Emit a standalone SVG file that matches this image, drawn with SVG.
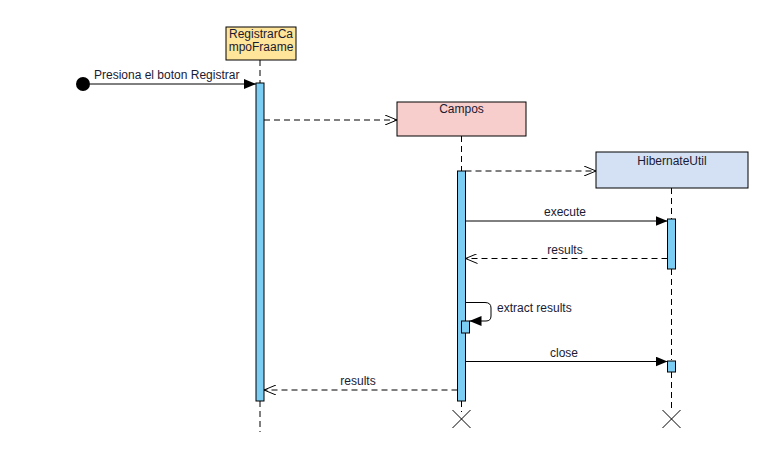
<svg xmlns="http://www.w3.org/2000/svg" width="775" height="462" viewBox="0 0 775 462">
<defs>
<style>
.t{font-family:"Liberation Sans",Arial,sans-serif;font-size:12px;fill:#1a1a33}
.box{stroke:#000;stroke-width:1}
.bar{fill:#7ccdf4;stroke:#000;stroke-width:1}
.life{stroke:#000;stroke-width:1;stroke-dasharray:6 4;fill:none}
.msg{stroke:#000;stroke-width:1;fill:none}
.ret{stroke:#000;stroke-width:1;fill:none;stroke-dasharray:6 4}
</style>
<marker id="fill" viewBox="0 0 12 10" refX="12" refY="5" markerWidth="12" markerHeight="10" markerUnits="userSpaceOnUse" orient="auto">
<path d="M0,0 L12,5 L0,10 Z" fill="#000"/>
</marker>
<marker id="open" viewBox="0 0 12 10" refX="12" refY="5" markerWidth="12" markerHeight="10" markerUnits="userSpaceOnUse" orient="auto">
<path d="M0,0 L12,5 L0,10" fill="none" stroke="#000" stroke-width="1"/>
</marker>
</defs>
<rect width="775" height="462" fill="#fff"/>

<g id="lifelines">
<path class="life" d="M260,60 V83 M260,401 V432"/>
<path class="life" d="M461.5,136 V171 M461.5,401 V412"/>
<path class="life" d="M671.5,188 V219 M671.5,269 V360 M671.5,372 V412"/>
</g>

<g id="RegistrarCampoFraame">
<rect class="box" x="226" y="27" width="70" height="33" fill="#ffe599"/>
<text class="t" x="261" y="38" text-anchor="middle">RegistrarCa</text>
<text class="t" x="261" y="51" text-anchor="middle">mpoFraame</text>
<rect class="bar" x="256" y="83" width="8" height="318"/>
</g>

<g id="Campos">
<rect class="box" x="397" y="102" width="129" height="34" fill="#f8cecc"/>
<text class="t" x="461.5" y="113" text-anchor="middle">Campos</text>
<rect class="bar" x="457.5" y="171" width="8" height="230"/>
<rect class="bar" x="461.5" y="321" width="8" height="12"/>
<path class="msg" d="M452.5,410 L470.5,428 M470.5,410 L452.5,428"/>
</g>

<g id="HibernateUtil">
<rect class="box" x="596" y="152" width="152" height="36" fill="#d4e1f5"/>
<text class="t" x="672" y="165" text-anchor="middle">HibernateUtil</text>
<rect class="bar" x="667.5" y="219" width="8" height="50"/>
<rect class="bar" x="667.5" y="361" width="8" height="11"/>
<path class="msg" d="M662.5,410 L680.5,428 M680.5,410 L662.5,428"/>
</g>

<g id="start">
<circle cx="83" cy="84" r="7" fill="#000"/>
</g>

<g id="connectors">
<path class="msg" d="M90,84 H256" marker-end="url(#fill)"/>
<text class="t" x="94" y="79">Presiona el boton Registrar</text>
<path class="ret" d="M264,120 H397" marker-end="url(#open)"/>
<path class="ret" d="M465.5,171 H596" marker-end="url(#open)"/>
<path class="msg" d="M465.5,221 H667.5" marker-end="url(#fill)"/>
<text class="t" x="565" y="216" text-anchor="middle">execute</text>
<path class="ret" d="M667.5,258.5 H465.5" marker-end="url(#open)"/>
<text class="t" x="565" y="254" text-anchor="middle">results</text>
<path class="msg" d="M465.5,302.5 H485 Q491,302.5 491,308 V316 Q491,321 486,321 H469.5" marker-end="url(#fill)"/>
<text class="t" x="497" y="312">extract results</text>
<path class="msg" d="M465.5,361.5 H667.5" marker-end="url(#fill)"/>
<text class="t" x="564" y="357" text-anchor="middle">close</text>
<path class="ret" d="M457.5,390 H264" marker-end="url(#open)"/>
<text class="t" x="358" y="385" text-anchor="middle">results</text>
</g>
</svg>
